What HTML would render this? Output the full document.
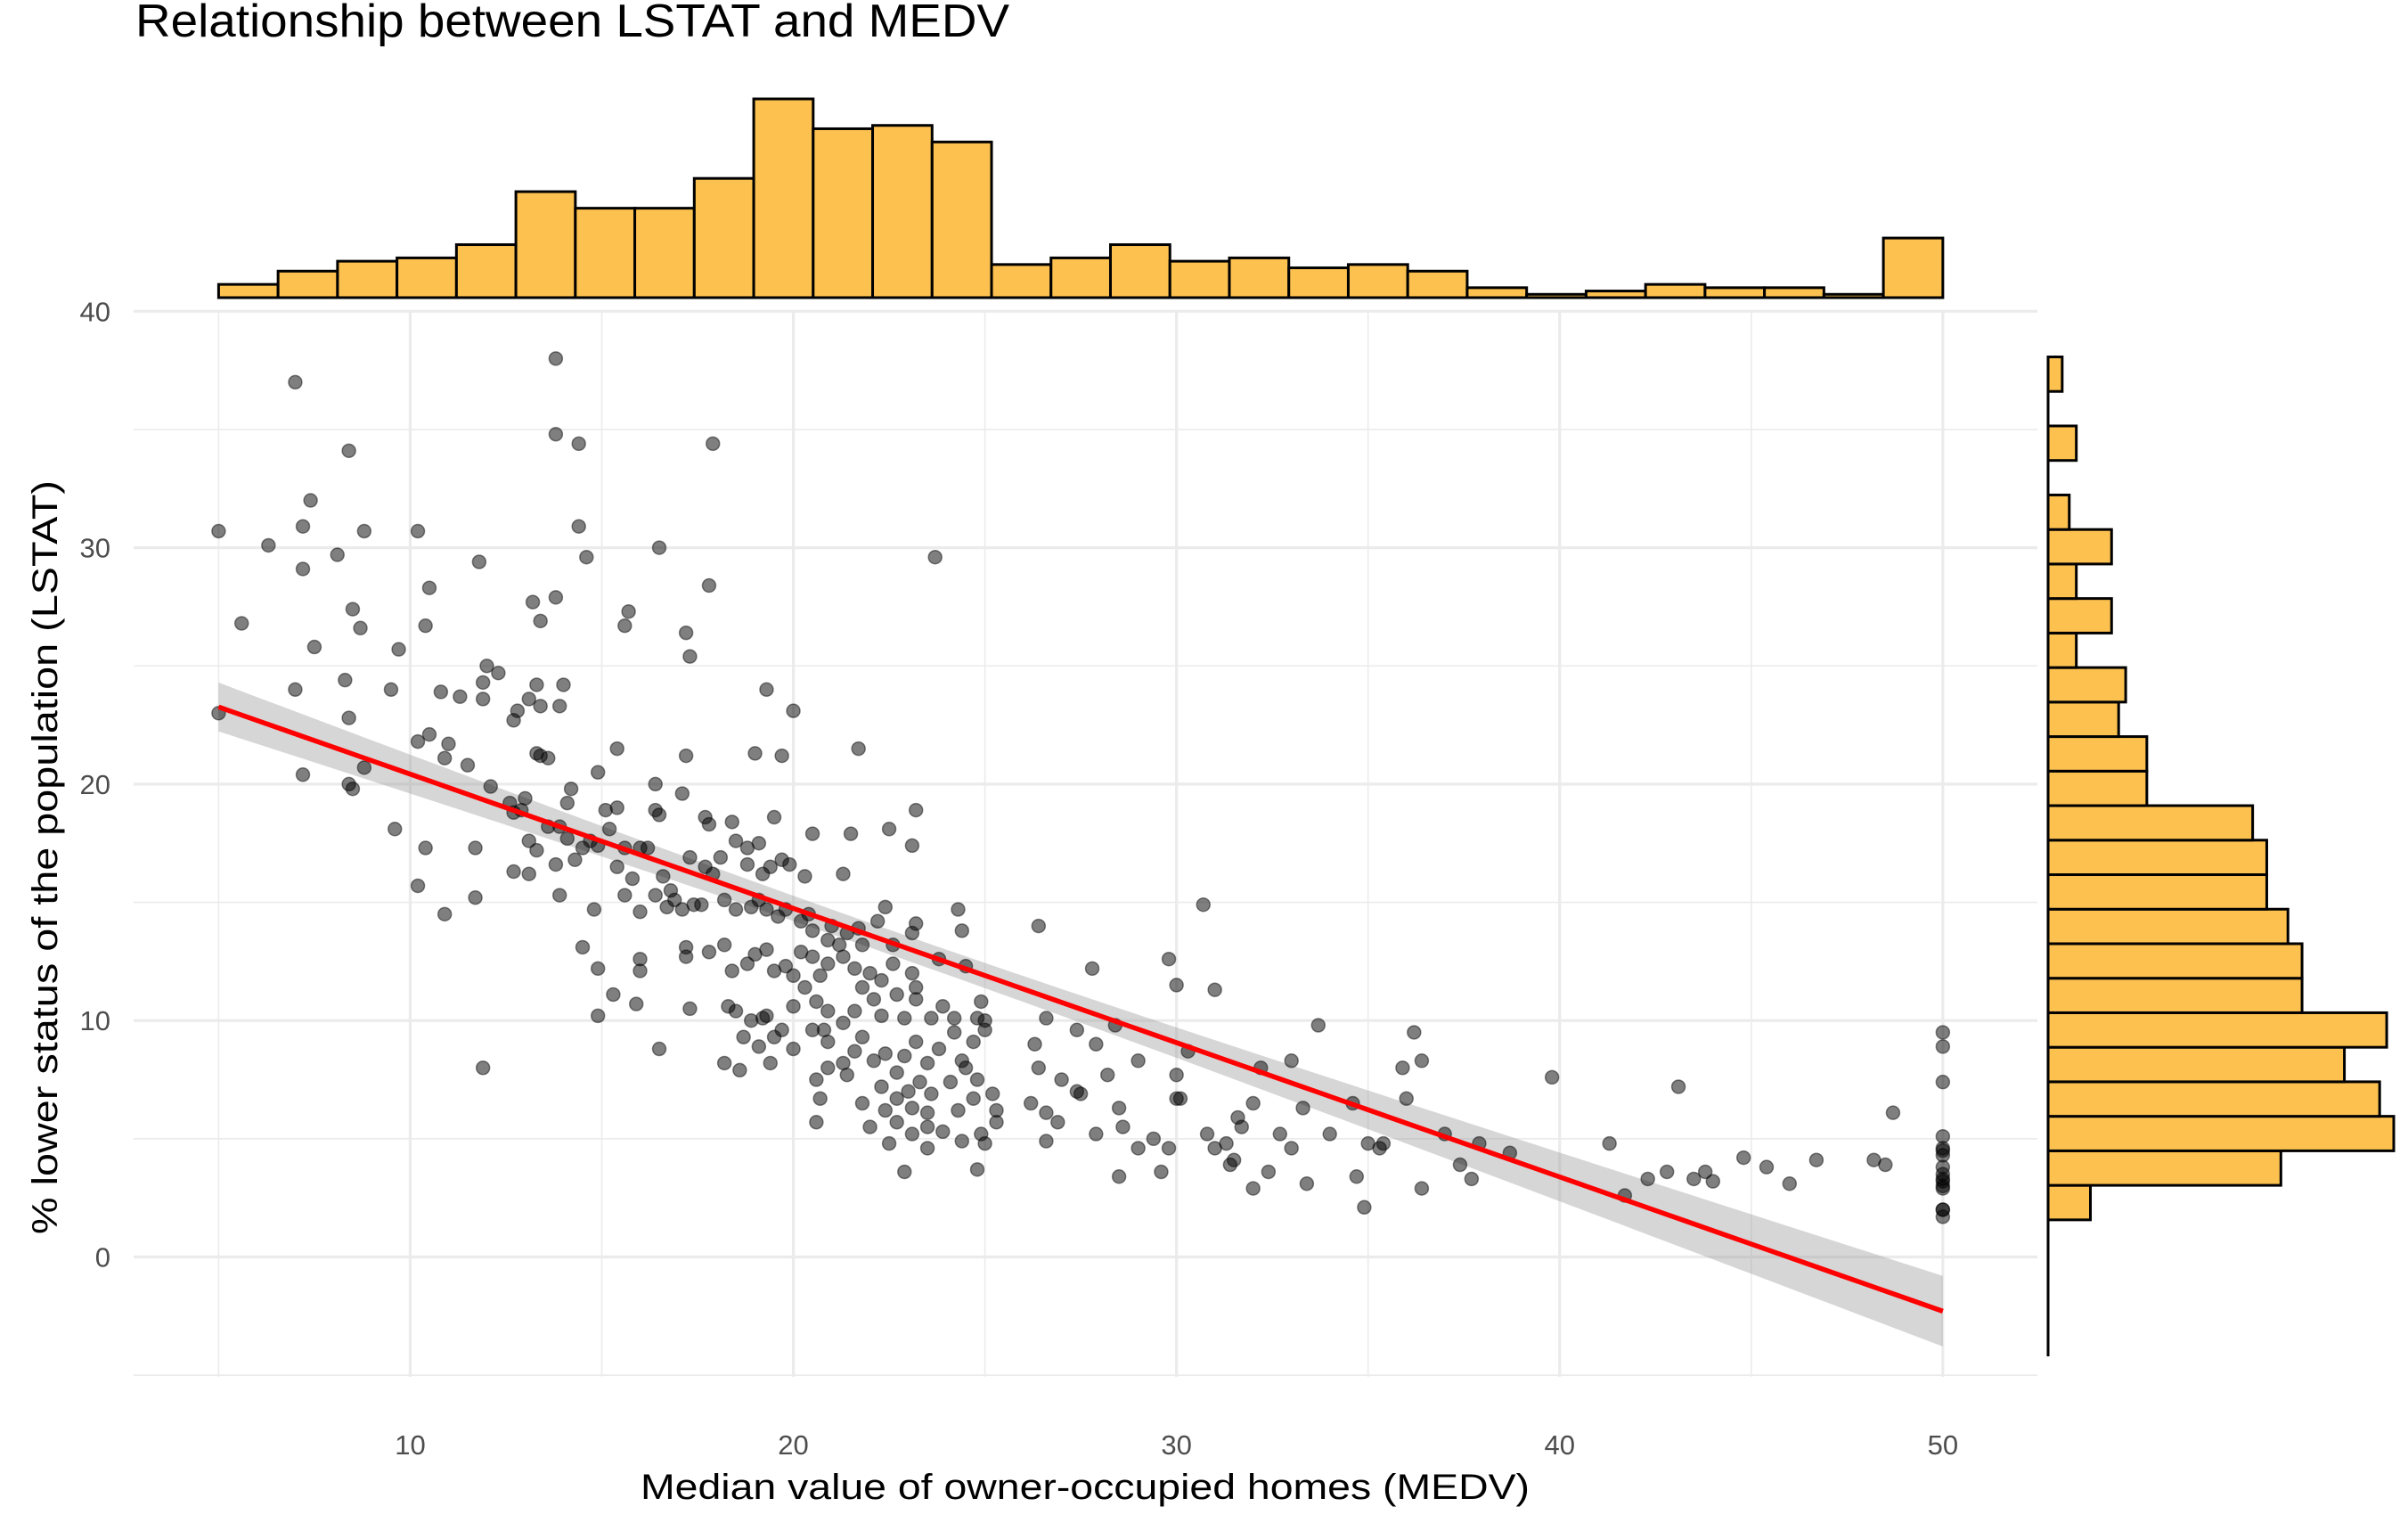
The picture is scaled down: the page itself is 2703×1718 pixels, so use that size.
<!DOCTYPE html>
<html><head><meta charset="utf-8"><title>Relationship between LSTAT and MEDV</title>
<style>html,body{margin:0;padding:0;background:#fff;}svg{display:block;font-family:"Liberation Sans",sans-serif;}</style>
</head><body>
<svg id="chart" width="2703" height="1718" viewBox="0 0 2703 1718" xmlns="http://www.w3.org/2000/svg">
<rect width="2703" height="1718" fill="#fff"/>
<text x="152" y="41" font-size="52" fill="#000" textLength="981" lengthAdjust="spacingAndGlyphs">Relationship between LSTAT and MEDV</text>
<g id="grid"></g>
<g id="band"></g>
<g id="points"></g>
<g id="fit"></g>
<g id="tophist"></g>
<g id="righthist"></g>
<g id="axes"></g>
<text x="1218" y="1682" font-size="40" fill="#000" text-anchor="middle" textLength="998" lengthAdjust="spacingAndGlyphs">Median value of owner-occupied homes (MEDV)</text>
<text transform="translate(64,962) rotate(-90)" font-size="40" fill="#000" text-anchor="middle" textLength="846" lengthAdjust="spacingAndGlyphs">% lower status of the population (LSTAT)</text>
</svg>
<script>
const medv = [7.0,13.8,13.8,14.4,17.9,8.4,5.0,6.3,7.2,7.4,8.1,8.8,10.2,7.2,11.8,14.4,14.6,16.5,23.7,10.5,17.8,13.2,13.8,8.5,5.6,15.7,15.6,13.4,8.7,10.4,17.2,17.3,7.5,9.7,12.0,12.3,7.0,8.3,9.5,10.8,11.3,11.9,13.3,14.0,19.3,13.1,13.4,13.9,11.9,12.8,20.0,5.0,8.4,12.7,10.5,10.2,11.0,13.3,13.4,15.4,17.2,19.0,19.7,21.7,10.9,11.5,13.6,12.1,14.9,7.2,8.8,8.4,8.5,16.4,14.2,14.1,17.1,12.6,12.9,13.0,12.7,15.1,15.4,15.2,16.4,16.5,17.7,17.8,18.4,19.5,23.2,13.6,13.9,14.1,13.1,13.3,9.6,10.4,11.7,14.7,14.9,15.6,16.0,16.2,18.5,19.1,20.5,21.5,22.5,23.1,17.3,17.7,17.9,18.1,18.8,18.8,19.2,19.4,19.7,19.9,20.3,21.3,12.7,13.1,13.8,14.3,14.5,15.4,15.8,16.6,13.9,14.8,15.6,16.0,16.4,16.7,16.8,16.9,17.1,17.4,17.6,18.2,18.5,18.9,19.1,19.3,19.6,19.8,20.2,20.4,20.5,20.9,21.0,21.4,21.7,22.2,22.4,21.8,22.6,23.1,23.2,24.3,24.4,26.4,30.7,10.2,10.9,11.7,14.9,14.5,16.0,16.0,17.2,17.2,17.8,18.2,18.4,18.8,19.0,19.3,19.5,19.8,20.0,20.2,20.5,20.7,20.9,21.2,21.3,21.6,21.8,22.0,22.3,22.6,23.1,23.2,23.8,24.5,27.8,29.8,30.0,31.0,15.3,15.9,17.3,18.3,18.5,18.9,19.2,19.3,19.7,20.0,20.3,20.6,20.8,20.9,21.3,21.6,22.1,22.3,22.7,22.9,23.2,23.6,23.9,24.2,24.8,24.9,25.0,14.9,18.7,19.1,19.5,20.0,20.5,20.9,21.3,21.6,21.8,22.1,22.4,22.7,22.9,23.2,23.5,23.8,24.2,24.4,24.7,25.0,26.6,26.3,27.4,28.4,27.9,33.7,36.2,16.5,11.9,18.2,18.6,19.4,20.6,20.9,21.4,22.3,22.7,23.0,23.3,23.6,24.1,24.5,24.8,25.2,26.4,27.0,27.5,28.2,29.0,30.0,30.3,32.2,33.0,35.9,36.4,39.8,43.1,20.7,21.8,22.4,23.1,23.5,24.3,24.7,25.3,26.2,26.6,27.4,28.5,30.0,30.1,31.6,32.0,33.3,34.6,36.0,20.6,22.0,22.7,23.1,23.5,23.9,24.4,24.9,25.3,26.9,27.9,28.6,29.4,30.8,31.7,32.7,34.0,35.0,35.3,37.0,22.5,23.5,25.0,26.6,29.0,29.8,31.0,31.3,33.0,35.4,37.9,41.3,22.9,24.8,28.5,29.6,31.4,31.5,32.4,33.4,34.7,36.4,37.4,37.7,38.7,42.3,42.8,43.5,43.8,44.0,44.8,45.4,46.0,46.7,48.2,48.5,48.7,41.7,34.9,32.0,50,50,50,50,50,50,50,50,50,50,50,50,50,50,50,50];
const lstat = [37.0,38.0,34.8,34.4,34.4,34.1,30.7,30.1,30.9,32.0,29.7,30.7,30.7,29.1,29.4,30.9,29.6,30.0,29.6,28.3,28.4,27.7,27.9,27.4,26.8,27.3,26.7,26.9,26.6,26.7,26.4,25.4,25.8,25.7,25.0,24.7,24.0,24.4,24.0,23.9,23.7,24.3,24.2,24.2,24.0,23.6,23.3,23.3,23.6,23.1,23.1,23.0,22.8,22.7,22.1,21.8,21.7,21.3,21.2,21.5,21.2,21.3,21.2,21.5,21.1,20.8,21.1,19.9,20.5,20.4,20.7,20.0,19.8,20.0,19.8,19.2,19.6,19.2,18.9,19.4,18.8,18.9,19.0,18.1,18.9,18.7,18.6,18.3,18.4,18.6,18.9,18.2,18.2,17.7,17.6,17.2,18.1,17.3,17.3,17.6,17.4,17.3,17.3,17.3,17.6,17.5,17.9,17.9,18.1,17.4,16.9,16.5,16.2,16.9,17.3,16.6,16.2,16.5,16.8,16.6,16.1,16.2,16.3,16.2,16.6,16.8,17.3,16.5,16.0,16.1,15.3,14.7,15.3,14.6,15.3,14.8,15.5,15.1,14.7,14.9,14.9,15.1,14.7,14.8,15.1,14.7,14.4,14.7,14.2,14.5,13.8,13.4,14.0,13.7,13.9,14.2,14.8,13.2,13.2,13.7,14.1,14.7,13.8,14.0,14.9,15.7,14.5,15.2,12.2,13.1,12.1,12.6,13.1,12.7,12.9,13.2,12.1,12.4,12.8,13.0,12.1,12.3,11.9,12.9,12.7,11.9,12.4,13.2,12.7,12.2,11.4,12.0,11.7,12.4,12.0,11.4,12.6,12.3,12.2,12.6,11.5,11.3,11.1,10.7,10.5,10.6,10.4,10.0,10.1,10.2,9.6,10.6,11.4,10.8,9.6,10.4,9.9,10.4,10.9,10.2,11.1,10.1,10.9,10.1,10.6,10.1,10.1,10.8,10.0,10.2,9.3,8.9,9.3,8.8,9.6,9.1,8.2,8.7,9.3,8.3,8.6,7.8,8.5,9.1,8.2,8.8,9.5,8.3,9.1,9.6,10.1,9.0,9.6,9.8,9.0,9.8,9.5,8.8,8.0,8.2,7.9,8.2,7.5,8.0,7.7,7.2,6.7,7.0,7.4,6.9,7.4,8.0,7.5,6.9,8.0,7.5,6.9,7.7,8.3,7.7,8.7,8.0,8.3,8.0,8.3,7.6,7.2,6.7,6.5,6.2,6.3,6.1,6.2,6.7,6.2,6.5,6.1,7.0,6.3,6.7,6.7,5.9,6.5,6.3,6.5,6.7,5.7,5.5,5.7,5.2,5.5,5.3,4.9,5.2,5.7,5.7,5.2,5.5,5.0,5.2,5.5,5.2,5.2,4.8,4.6,5.2,4.8,4.6,4.8,4.9,4.6,4.6,4.6,4.8,4.6,4.8,4.8,4.8,3.6,3.7,3.4,3.6,3.9,4.1,3.6,3.1,3.4,2.9,3.9,3.3,4.4,3.3,3.6,3.3,3.6,3.2,4.2,3.8,3.1,4.1,4.1,3.9,6.1,2.6,2.1,2.9,9.5,8.9,7.4,5.1,4.6,4.3,3.8,3.5,3.3,3.0,2.9,2.0,1.7,4.5,3.2,2.0];
const medvCounts = [4,8,11,12,16,32,27,27,36,60,51,52,47,10,12,16,11,12,9,10,8,3,1,2,4,3,3,1,18];
const lstatCounts = [6,33,49,47,42,48,36,36,34,31,31,29,14,14,10,11,4,9,4,9,3,0,4,0,2];
const xTicks = [10,20,30,40,50];
const yTicks = [0,10,20,30,40];
const xMinor = [5,15,25,35,45];
const yMinor = [-5,5,15,25,35];

const NS = "http://www.w3.org/2000/svg";
const X0=245.4, XS=43.01, Y0=1410.5, YS=26.53;
const sx = v => X0 + (v-5)*XS;
const sy = v => Y0 - v*YS;
const PL=150, PR=2287, PT=349, PB=1545;
function mk(tag, attrs, parent){const e=document.createElementNS(NS,tag);for(const k in attrs)e.setAttribute(k,attrs[k]);parent.appendChild(e);return e;}
const grid=document.getElementById('grid');
yMinor.forEach(v=>{const l=mk('line',{x1:PL,x2:PR,y1:sy(v),y2:sy(v),stroke:'#ebebeb','stroke-width':1.6},grid);

});
xMinor.forEach(v=>{const l=mk('line',{x1:sx(v),x2:sx(v),y1:PT,y2:PB,stroke:'#ebebeb','stroke-width':1.6},grid);

});
yTicks.forEach(v=>{const l=mk('line',{x1:PL,x2:PR,y1:sy(v),y2:sy(v),stroke:'#ebebeb','stroke-width':3.2},grid);


const t=mk('text',{x:124,y:sy(v)+11,'font-size':31,fill:'#4d4d4d','text-anchor':'end'},grid);t.textContent=v;

});
xTicks.forEach(v=>{const l=mk('line',{x1:sx(v),x2:sx(v),y1:PT,y2:PB,stroke:'#ebebeb','stroke-width':3.2},grid);


const t=mk('text',{x:sx(v),y:1632,'font-size':31,fill:'#4d4d4d','text-anchor':'middle'},grid);t.textContent=v;

});

const n=Math.min(medv.length,lstat.length);
let mx=0,my=0;for(let i=0;i<n;i++){mx+=medv[i];my+=lstat[i];}mx/=n;my/=n;
let sxx=0,sxy=0;for(let i=0;i<n;i++){sxx+=(medv[i]-mx)**2;sxy+=(medv[i]-mx)*(lstat[i]-my);}
const b=sxy/sxx,a=my-b*mx;
let sse=0;for(let i=0;i<n;i++){sse+=(lstat[i]-a-b*medv[i])**2;}
const s=Math.sqrt(sse/(n-2));
const xmin=Math.min(...medv),xmax=Math.max(...medv);
const up=[],dn=[],ln=[];
for(let k=0;k<=80;k++){const x=xmin+(xmax-xmin)*k/80;const yh=a+b*x;const h=1.965*s*Math.sqrt(1/n+(x-mx)**2/sxx);
up.push(sx(x)+','+sy(yh+h));dn.unshift(sx(x)+','+sy(yh-h));ln.push(sx(x)+','+sy(yh));}
const band=mk('polygon',{points:up.concat(dn).join(' '),fill:'#999999','fill-opacity':0.4},document.getElementById('band'));


const pg=document.getElementById('points');
for(let i=0;i<n;i++){const c=mk('circle',{cx:sx(medv[i]),cy:sy(lstat[i]),r:7.5,fill:'#000','fill-opacity':0.5,stroke:'#000','stroke-opacity':0.45,'stroke-width':1.5},pg);

}
const fl=mk('polyline',{points:ln.join(' '),fill:'none',stroke:'#ff0000','stroke-width':5.5},document.getElementById('fit'));



const th=document.getElementById('tophist');
const TB=334, tpx=223/60;
const bw=(50-5)/medvCounts.length;
medvCounts.forEach((c,i)=>{const x1=sx(5+i*bw),x2=sx(5+(i+1)*bw);const h=c*tpx;
const r=mk('rect',{x:x1,y:TB-h,width:x2-x1,height:h,fill:'#fdc150',stroke:'#000','stroke-width':3},th);

});

const rh=document.getElementById('righthist');
const RL=2299, rpx=388/49, ylo=1.57, ybw=1.46;
const ax=mk('line',{x1:RL,x2:RL,y1:402,y2:1522,stroke:'#000','stroke-width':3},rh);


lstatCounts.forEach((c,i)=>{if(c===0)return;const y1=sy(ylo+(i+1)*ybw),y2=sy(ylo+i*ybw);
const r=mk('rect',{x:RL,y:y1,width:c*rpx,height:y2-y1,fill:'#fdc150',stroke:'#000','stroke-width':3},rh);

});
</script>
</body></html>
